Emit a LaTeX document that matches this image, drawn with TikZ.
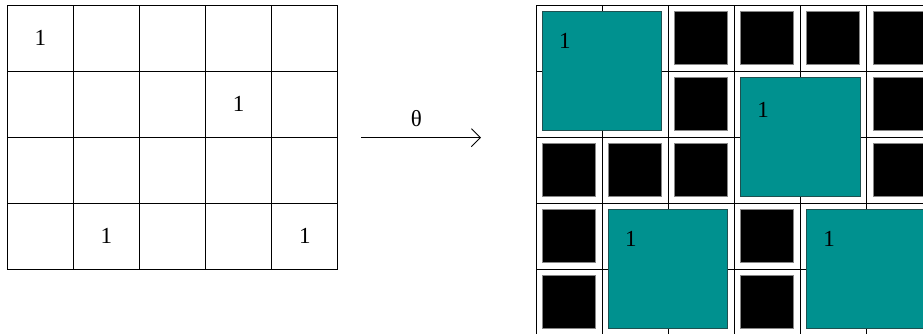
\documentclass[tikz,border=0pt]{standalone}
\usepackage{fontspec}
\setmainfont{Liberation Serif}
\usetikzlibrary{arrows.meta}
\definecolor{tealfill}{RGB}{0,145,143}
\definecolor{tealedge}{RGB}{30,80,80}
\definecolor{sqedge}{RGB}{135,135,135}
\begin{document}
\begin{tikzpicture}[x=1pt,y=-1pt,
  lbl/.style={font=\fontsize{23}{27}\selectfont, inner sep=0pt},
  gridline/.style={draw=black, line width=1pt},
  blacksq/.style={fill=black, draw=sqedge, line width=1pt},
  tealsq/.style={fill=tealfill, draw=tealedge, line width=1pt},
  maparrow/.style={draw=black, line width=0.9pt, -{Straight Barb[length=9pt,width=18pt,line width=0.9pt]}}]
\useasboundingbox (0,0) rectangle (923,334);
\fill[white] (0,0) rectangle (923,334);
\clip (0,0) rectangle (923,334);
% left grid
\foreach \i in {0,...,5} \draw[gridline] ({7.3+66.1*\i},5.3) -- ({7.3+66.1*\i},269.3);
\foreach \j in {0,...,4} \draw[gridline] (7.3,{5.3+66*\j}) -- (337.8,{5.3+66*\j});
\node[lbl] (la) at ({7.3+66.1*0.5},{5.3+66*0.5}) {1};
\node[lbl] (lb) at ({7.3+66.1*3.5},{5.3+66*1.5}) {1};
\node[lbl] (lc) at ({7.3+66.1*1.5},{5.3+66*3.5}) {1};
\node[lbl] (ld) at ({7.3+66.1*4.5},{5.3+66*3.5}) {1};
% arrow
\coordinate (as) at (361,137.7);
\coordinate (ae) at (481,137.7);
\draw[maparrow] (as) -- (ae);
\node[lbl] (theta) at (416.5,119) {θ};
% right grid
\foreach \i in {0,...,6} \draw[gridline] ({536+66.1*\i},5.3) -- ({536+66.1*\i},345);
\foreach \j in {0,...,5} \draw[gridline] (536,{5.3+66*\j}) -- (945,{5.3+66*\j});
% black squares
\foreach \c/\r in {2/0,3/0,4/0,5/0,2/1,5/1,0/2,1/2,2/2,5/2,0/3,3/3,0/4,3/4}
  \draw[blacksq] ({536+66.1*\c+6.5},{5.3+66*\r+6.5}) rectangle ++(53,53);
% teal blocks
\foreach \c/\r in {0/0,3/1,1/3,4/3}
  \draw[tealsq] ({536+66.1*\c+6.3},{5.3+66*\r+6.3}) rectangle ++(119.5,119);
\node[lbl] (ra) at ({536+6.3+22.5},{5.3+6.3+29.3}) {1};
\node[lbl] (rb) at ({536+66.1*3+6.3+22.5},{5.3+66+6.3+32.2}) {1};
\node[lbl] (rc) at ({536+66.1*1+6.3+22.5},{5.3+66*3+6.3+29}) {1};
\node[lbl] (rd) at ({536+66.1*4+6.3+22.5},{5.3+66*3+6.3+29}) {1};
\end{tikzpicture}
\end{document}
